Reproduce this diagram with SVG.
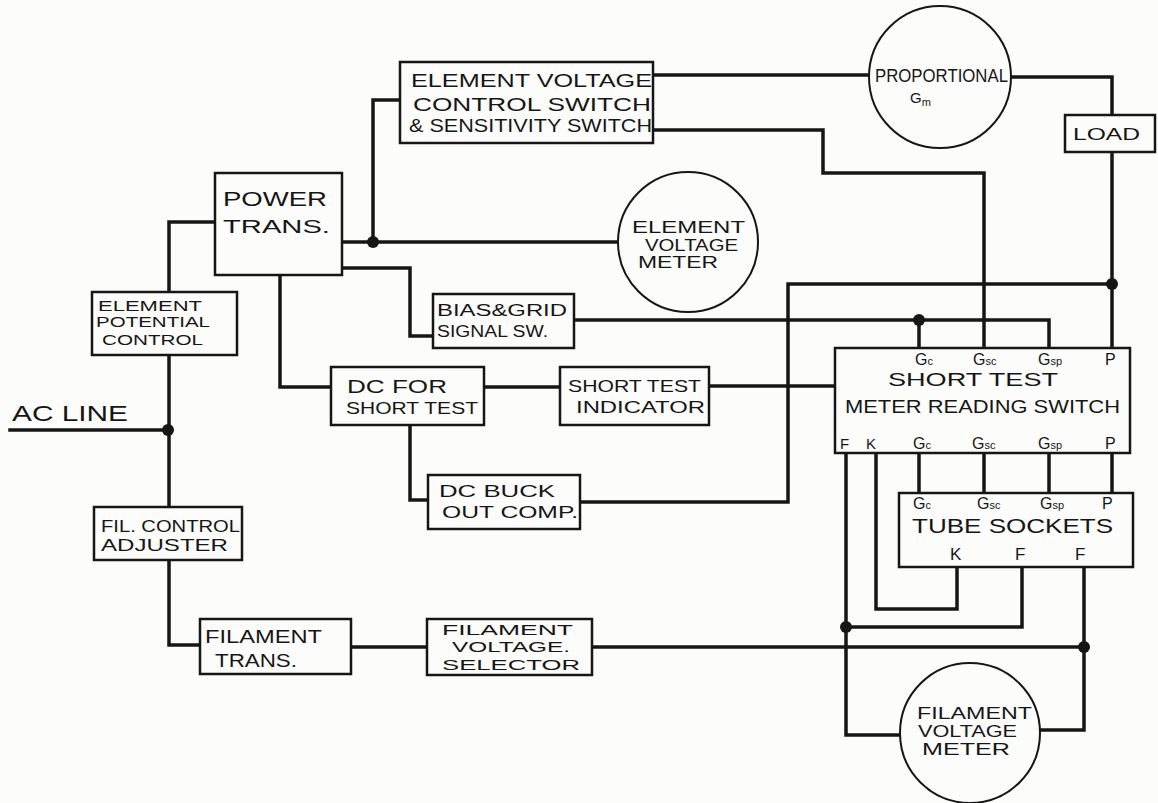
<svg xmlns="http://www.w3.org/2000/svg" width="1158" height="803" viewBox="0 0 1158 803">
<style>
.w{fill:none;stroke:#161616;stroke-width:3.5;stroke-linejoin:miter;stroke-linecap:square}
.b{fill:#fcfcfa;stroke:#161616;stroke-width:2.5}
.c{fill:#fcfcfa;stroke:#161616;stroke-width:2}
.d{fill:#161616}
text{font-family:"Liberation Sans",Arial,sans-serif;fill:#161616}
.s{font-size:11px}
</style>
<rect x="0" y="0" width="1158" height="803" fill="#fcfcfa"/>
<g id="connectors">
<path class="w" d="M10 430 H168"/>
<path class="w" d="M215 222 H169 V292"/>
<path class="w" d="M169 355 V507"/>
<path class="w" d="M169 560 V645 H200"/>
<path class="w" d="M342 242 H618"/>
<path class="w" d="M373 242 V100 H400"/>
<path class="w" d="M342 268 H410 V336 H433"/>
<path class="w" d="M280 275 V387 H331"/>
<path class="w" d="M484 387 H560"/>
<path class="w" d="M709 386 H835"/>
<path class="w" d="M410 425 V500 H428"/>
<path class="w" d="M580 502 H788 V284 H1112"/>
<path class="w" d="M653 75 H869"/>
<path class="w" d="M1011 77 H1112 V115"/>
<path class="w" d="M1112 152 V348"/>
<path class="w" d="M653 130 H823 V173 H984 V348"/>
<path class="w" d="M574 320 H1049 V348"/>
<path class="w" d="M919 320 V348"/>
<path class="w" d="M351 647 H427"/>
<path class="w" d="M592 647 H1084"/>
<path class="w" d="M919 453 V493 M984 453 V493 M1049 453 V493 M1112 453 V493"/>
<path class="w" d="M876 453 V609 H957 V567"/>
<path class="w" d="M846 453 V735 H900"/>
<path class="w" d="M1022 567 V627 H846"/>
<path class="w" d="M1084 567 V730 H1040"/>
<circle class="d" cx="373" cy="242" r="6"/>
<circle class="d" cx="168" cy="430" r="6"/>
<circle class="d" cx="919" cy="320" r="6"/>
<circle class="d" cx="1112" cy="284" r="6"/>
<circle class="d" cx="846" cy="627" r="6"/>
<circle class="d" cx="1084" cy="647" r="6"/>
</g>
<g id="ac-line">
<text x="12" y="421" font-size="22" textLength="116" lengthAdjust="spacingAndGlyphs">AC LINE</text>
</g>
<g id="ev-switch">
<rect class="b" x="400" y="62" width="253" height="81"/>
<text x="411" y="87" font-size="19" textLength="241" lengthAdjust="spacingAndGlyphs">ELEMENT VOLTAGE</text>
<text x="413" y="111" font-size="19" textLength="238" lengthAdjust="spacingAndGlyphs">CONTROL SWITCH</text>
<text x="409" y="132" font-size="18" textLength="243" lengthAdjust="spacingAndGlyphs">&amp; SENSITIVITY SWITCH</text>
</g>
<g id="proportional">
<circle class="c" cx="940" cy="77" r="71"/>
<text x="875" y="82" font-size="18" textLength="133" lengthAdjust="spacingAndGlyphs">PROPORTIONAL</text>
<text x="910" y="103" font-size="15">G<tspan class="s" dy="3">m</tspan></text>
</g>
<g id="load">
<rect class="b" x="1065" y="115" width="90" height="37"/>
<text x="1073" y="140" font-size="17" textLength="67" lengthAdjust="spacingAndGlyphs">LOAD</text>
</g>
<g id="power-trans">
<rect class="b" x="215" y="173" width="127" height="102"/>
<text x="223" y="206" font-size="21" textLength="104" lengthAdjust="spacingAndGlyphs">POWER</text>
<text x="223" y="233" font-size="19" textLength="107" lengthAdjust="spacingAndGlyphs">TRANS.</text>
</g>
<g id="element-potential-control">
<rect class="b" x="92" y="292" width="145" height="63"/>
<text x="98" y="311" font-size="15" textLength="104" lengthAdjust="spacingAndGlyphs">ELEMENT</text>
<text x="96" y="327" font-size="15" textLength="114" lengthAdjust="spacingAndGlyphs">POTENTIAL</text>
<text x="102" y="345" font-size="15" textLength="101" lengthAdjust="spacingAndGlyphs">CONTROL</text>
</g>
<g id="ev-meter">
<circle class="c" cx="688" cy="242" r="70"/>
<text x="632" y="233" font-size="16" textLength="113" lengthAdjust="spacingAndGlyphs">ELEMENT</text>
<text x="645" y="251" font-size="16" textLength="93" lengthAdjust="spacingAndGlyphs">VOLTAGE</text>
<text x="638" y="268" font-size="16" textLength="80" lengthAdjust="spacingAndGlyphs">METER</text>
</g>
<g id="bias-grid">
<rect class="b" x="433" y="294" width="141" height="54"/>
<text x="437" y="316" font-size="16" textLength="130" lengthAdjust="spacingAndGlyphs">BIAS&amp;GRID</text>
<text x="437" y="337" font-size="16" textLength="111" lengthAdjust="spacingAndGlyphs">SIGNAL SW.</text>
</g>
<g id="dc-short-test">
<rect class="b" x="331" y="367" width="153" height="58"/>
<text x="347" y="393" font-size="18" textLength="100" lengthAdjust="spacingAndGlyphs">DC  FOR</text>
<text x="346" y="414" font-size="17" textLength="132" lengthAdjust="spacingAndGlyphs">SHORT TEST</text>
</g>
<g id="short-test-indicator">
<rect class="b" x="560" y="367" width="149" height="58"/>
<text x="568" y="392" font-size="17" textLength="133" lengthAdjust="spacingAndGlyphs">SHORT TEST</text>
<text x="576" y="413" font-size="17" textLength="129" lengthAdjust="spacingAndGlyphs">INDICATOR</text>
</g>
<g id="dc-buck">
<rect class="b" x="428" y="475" width="152" height="54"/>
<text x="439" y="497" font-size="17" textLength="116" lengthAdjust="spacingAndGlyphs">DC  BUCK</text>
<text x="442" y="518" font-size="17" textLength="136" lengthAdjust="spacingAndGlyphs">OUT  COMP.</text>
</g>
<g id="short-test-switch">
<rect class="b" x="835" y="348" width="295" height="105"/>
<text x="915" y="365" font-size="16">G<tspan class="s">c</tspan></text>
<text x="973" y="365" font-size="16">G<tspan class="s">sc</tspan></text>
<text x="1038" y="365" font-size="16">G<tspan class="s">sp</tspan></text>
<text x="1105" y="365" font-size="16">P</text>
<text x="888" y="386" font-size="18" textLength="170" lengthAdjust="spacingAndGlyphs">SHORT  TEST</text>
<text x="845" y="413" font-size="18" textLength="275" lengthAdjust="spacingAndGlyphs">METER READING SWITCH</text>
<text x="840" y="449" font-size="15">F</text>
<text x="866" y="449" font-size="15">K</text>
<text x="913" y="449" font-size="16">G<tspan class="s">c</tspan></text>
<text x="972" y="449" font-size="16">G<tspan class="s">sc</tspan></text>
<text x="1038" y="449" font-size="16">G<tspan class="s">sp</tspan></text>
<text x="1105" y="449" font-size="16">P</text>
</g>
<g id="tube-sockets">
<rect class="b" x="899" y="493" width="234" height="74"/>
<text x="913" y="509" font-size="16">G<tspan class="s">c</tspan></text>
<text x="977" y="509" font-size="16">G<tspan class="s">sc</tspan></text>
<text x="1040" y="509" font-size="16">G<tspan class="s">sp</tspan></text>
<text x="1102" y="509" font-size="16">P</text>
<text x="912" y="533" font-size="21" textLength="201" lengthAdjust="spacingAndGlyphs">TUBE SOCKETS</text>
<text x="950" y="560" font-size="17">K</text>
<text x="1015" y="560" font-size="17">F</text>
<text x="1075" y="560" font-size="17">F</text>
</g>
<g id="fil-control-adjuster">
<rect class="b" x="94" y="507" width="148" height="53"/>
<text x="101" y="532" font-size="17" textLength="139" lengthAdjust="spacingAndGlyphs">FIL. CONTROL</text>
<text x="101" y="551" font-size="17" textLength="127" lengthAdjust="spacingAndGlyphs">ADJUSTER</text>
</g>
<g id="filament-trans">
<rect class="b" x="200" y="619" width="151" height="55"/>
<text x="205" y="643" font-size="18" textLength="117" lengthAdjust="spacingAndGlyphs">FILAMENT</text>
<text x="215" y="667" font-size="18" textLength="82" lengthAdjust="spacingAndGlyphs">TRANS.</text>
</g>
<g id="filament-voltage-selector">
<rect class="b" x="427" y="619" width="165" height="56"/>
<text x="442" y="635" font-size="15" textLength="131" lengthAdjust="spacingAndGlyphs">FILAMENT</text>
<text x="452" y="652" font-size="15" textLength="118" lengthAdjust="spacingAndGlyphs">VOLTAGE.</text>
<text x="442" y="670" font-size="15" textLength="138" lengthAdjust="spacingAndGlyphs">SELECTOR</text>
</g>
<g id="filament-voltage-meter">
<circle class="c" cx="970" cy="733" r="70"/>
<text x="917" y="719" font-size="16" textLength="115" lengthAdjust="spacingAndGlyphs">FILAMENT</text>
<text x="918" y="737" font-size="16" textLength="99" lengthAdjust="spacingAndGlyphs">VOLTAGE</text>
<text x="922" y="755" font-size="16" textLength="88" lengthAdjust="spacingAndGlyphs">METER</text>
</g>
</svg>
